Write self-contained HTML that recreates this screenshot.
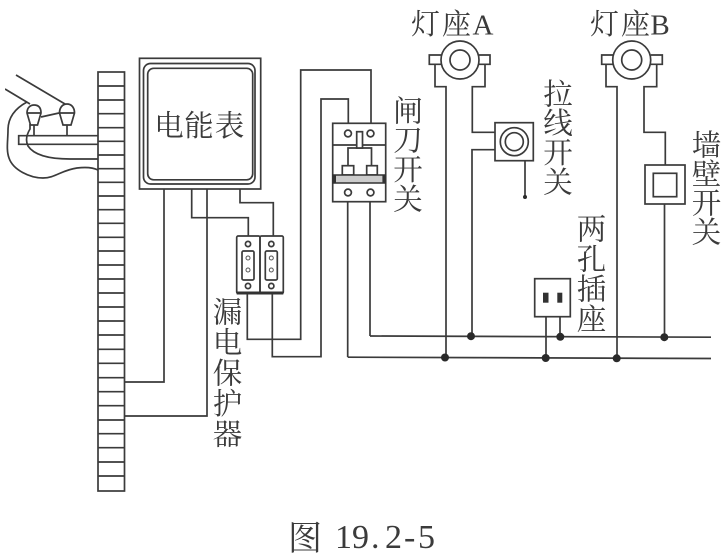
<!DOCTYPE html>
<html><head><meta charset="utf-8"><style>
html,body{margin:0;padding:0;background:#fff;width:725px;height:557px;overflow:hidden}
svg{display:block}
.w{fill:none;stroke:#3a3a3a;stroke-width:1.7}
.t{font-family:"Liberation Serif","Noto Serif CJK SC",serif;font-size:29.5px;fill:#3a3a3a;text-anchor:middle}
.l{font-size:29px}
</style></head><body>
<svg width="725" height="557" viewBox="0 0 725 557" xmlns="http://www.w3.org/2000/svg">
<defs><filter id="b" x="0" y="0" width="100%" height="100%"><feGaussianBlur stdDeviation="0.35"/></filter></defs>
<rect width="725" height="557" fill="#fff"/>
<g filter="url(#b)">
<!-- wall -->
<g class="w">
<rect x="98" y="72" width="26.5" height="419"/>
<path d="M98 86H124.5M98 100H124.5M98 113.7H124.5M98 127.7H124.5M98 141.3H124.5M98 155H124.5M98 168.7H124.5M98 182.3H124.5M98 196H124.5M98 209.7H124.5M98 223.3H124.5M98 237.3H124.5M98 251H124.5M98 265H124.5M98 279H124.5M98 293H124.5M98 307H124.5M98 321H124.5M98 335H124.5M98 349.3H124.5M98 363.3H124.5M98 377.7H124.5M98 391.7H124.5M98 405.7H124.5M98 420H124.5M98 433.7H124.5M98 447.7H124.5M98 462H124.5M98 476H124.5"/>
<!-- bracket and service wires -->
<path d="M98 135.7H18.7V144.3H98"/>
<path d="M5 89L30 104M16 75L65 104M41 117L59 113M67 125V135.7M34 125V135.7"/>
<path d="M27 102C14 109 8 118 8 130C8 140 6 150 9 158C13 170 30 178 43 178C55 178 62 170 77 168C85 167 92 167 98 170"/>
<path d="M30 124V129C27 134 25 140 28 146C34 155 48 159 70 159H98"/>
<path d="M27 113C27 107 31 105 34 105C38 105 41 107 41 113L37.5 125H30.5Z"/>
<path d="M59.5 113C59.5 107 63 104 67 104C71 104 74.5 107 74.5 113L71 125H63Z"/>
<path d="M27 113H41M59.5 113H74.5"/>
<!-- meter -->
<rect x="139.5" y="58.3" width="121.2" height="130.7"/>
<rect x="143.5" y="63.5" width="111.5" height="120.5" rx="7"/>
<rect x="147.7" y="68.3" width="105" height="111.5" rx="6"/>
<path d="M164 189V382H124.5M207 189V416H124.5M191.7 189V217.7H248.3V236M240 189V202.7H273.3V236"/>
<!-- leakage protector -->
<rect x="236.7" y="236" width="23.3" height="57.5" rx="1.5"/>
<rect x="260" y="236" width="23.3" height="57.5" rx="1.5"/>
<circle cx="248" cy="244" r="2.6"/><circle cx="271.3" cy="244" r="2.6"/>
<circle cx="248" cy="286" r="2.6"/><circle cx="271.3" cy="286" r="2.6"/>
<rect x="242" y="251" width="12" height="29" rx="1.5"/><rect x="265.3" y="251" width="12" height="29" rx="1.5"/>
</g>
<g fill="none" stroke="#555" stroke-width="1">
<circle cx="248" cy="258" r="2"/><circle cx="248" cy="270" r="2"/><circle cx="271.3" cy="258" r="2"/><circle cx="271.3" cy="270" r="2"/>
</g>
<rect x="236.7" y="291.5" width="46.6" height="3" fill="#333"/>
<g class="w">
<path d="M247.3 294V339.3H300.7V70H371V123.3M272.3 294V356.7H321V99H348.3V123.3"/>
<!-- knife switch -->
<rect x="332.7" y="123.3" width="53" height="78.4"/>
<path d="M332.7 145H385.7"/>
<circle cx="348" cy="133.5" r="3.4"/><circle cx="370.5" cy="133.5" r="3.4"/>
<circle cx="348" cy="192.5" r="3.4"/><circle cx="370.5" cy="192.5" r="3.4"/>
<path d="M348 165.7V148H371.5V165.7"/>
<rect x="356.7" y="131.7" width="5.8" height="16.3" fill="#fff"/>
<rect x="342.3" y="165.7" width="11.4" height="9.3"/>
<rect x="366.7" y="165.7" width="10.6" height="9.3"/>
<path d="M347.7 201.7V357M370 201.7V336"/>
<!-- buses -->
<path d="M347.7 357.2L711 358.5M370 336L711 337.2"/>
<!-- lamp A -->
<path d="M441.7 55H429.3V64.3H441.7M479 55H490V64.3H479"/>
<path d="M435 64.3V86.7H446V357M485 64.3V86.7H472.3V132.3H495M495 149.7H472V336"/>
<circle cx="460" cy="60" r="19"/><circle cx="460" cy="60" r="10"/>
<!-- pull switch -->
<rect x="495" y="122.7" width="38.3" height="38"/>
<circle cx="514.3" cy="141.7" r="14"/><circle cx="514.3" cy="141.7" r="9"/>
<path d="M525 160.7V196"/>
<!-- lamp B -->
<path d="M613 55H601.7V64.3H613M650.7 55H662.3V64.3H650.7"/>
<path d="M606 64.3V86.7H617V358M656.7 64.3V86.7H644V132.3H665.3V165"/>
<circle cx="631.7" cy="60" r="19"/><circle cx="631.7" cy="60" r="10"/>
<!-- wall switch -->
<rect x="645" y="165" width="40" height="39"/>
<rect x="653.3" y="173.3" width="23.4" height="23.4"/>
<path d="M664.5 204V337"/>
<!-- socket -->
<rect x="534.7" y="278.7" width="35.6" height="38"/>
<path d="M546 316.7V358M560 316.7V337"/>
</g>
<!-- knife switch bar -->
<rect x="333" y="175" width="52.4" height="8" fill="#ccc" stroke="#333" stroke-width="1.5"/>
<rect x="333" y="175" width="3" height="8" fill="#333"/>
<rect x="382.4" y="175" width="3" height="8" fill="#333"/>
<rect x="543" y="292.7" width="5.5" height="10" fill="#333"/>
<rect x="557.3" y="292.7" width="5" height="10" fill="#333"/>
<g fill="#2a2a2a">
<circle cx="525" cy="197" r="2"/>
<circle cx="471" cy="336.2" r="4"/><circle cx="560.3" cy="336.8" r="4"/><circle cx="664.3" cy="337.2" r="4"/>
<circle cx="445" cy="357.5" r="4"/><circle cx="545.7" cy="358" r="4"/><circle cx="616.7" cy="358.3" r="4"/>
</g>
<!-- labels -->
<text class="t l" x="425.5" y="34">灯</text><text class="t l" x="456.5" y="34">座</text><text class="t" x="483" y="34.5" style="font-size:29px">A</text>
<text class="t l" x="604.5" y="34">灯</text><text class="t l" x="635.5" y="34">座</text><text class="t" x="660" y="34.5" style="font-size:29px">B</text>
<text class="t" x="169" y="136">电</text><text class="t" x="199" y="136">能</text><text class="t" x="229.5" y="136">表</text>
<text class="t" x="408" y="121.5">闸</text><text class="t" x="408" y="150.5">刀</text><text class="t" x="408" y="180">开</text><text class="t" x="408" y="209.5">关</text>
<text class="t" x="558" y="104.5">拉</text><text class="t" x="558" y="133.5">线</text><text class="t" x="558" y="163">开</text><text class="t" x="558" y="192.5">关</text>
<text class="t" x="706.5" y="155.5">墙</text><text class="t" x="706.5" y="184.5">壁</text><text class="t" x="706.5" y="213.5">开</text><text class="t" x="706.5" y="242.5">关</text>
<text class="t" x="591.5" y="239.5">两</text><text class="t" x="591.5" y="269.5">孔</text><text class="t" x="591.5" y="299.5">插</text><text class="t" x="591.5" y="329.5">座</text>
<text class="t" x="227.5" y="322.5">漏</text><text class="t" x="227.5" y="353">电</text><text class="t" x="227.5" y="383.5">保</text><text class="t" x="227.5" y="414">护</text><text class="t" x="227.5" y="444.5">器</text>
<text class="t" x="305" y="550" style="font-size:34px">图</text>
<text x="335 352 371 385 404 418" y="548" style="font-family:'Liberation Serif',serif;font-size:34px;fill:#3a3a3a">19.2-5</text>
</g>
</svg>
</body></html>
